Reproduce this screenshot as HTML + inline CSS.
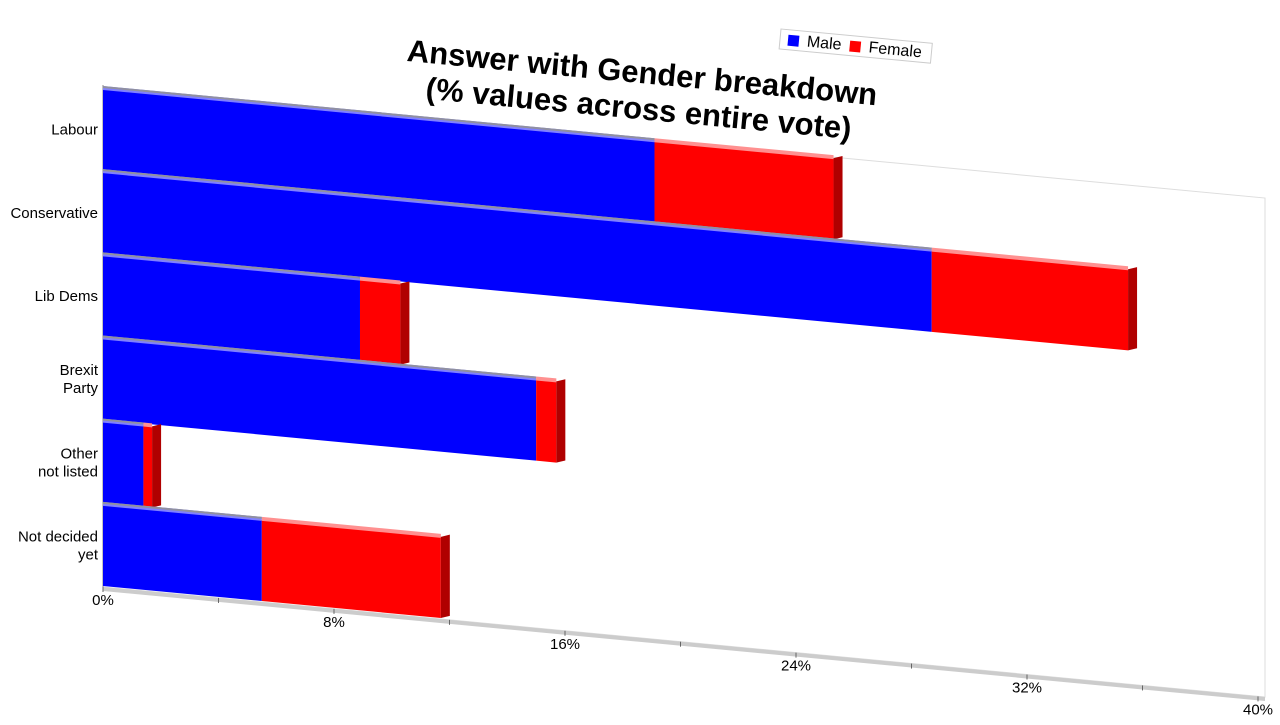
<!DOCTYPE html>
<html><head><meta charset="utf-8"><style>
body{margin:0;background:#fff;font-family:"Liberation Sans",sans-serif}
</style></head><body>
<svg width="1280" height="720" xmlns="http://www.w3.org/2000/svg" font-family="Liberation Sans, sans-serif">
<g transform="translate(640,95) rotate(5.4)">
<text x="0" y="-12" text-anchor="middle" font-size="31" font-weight="bold">Answer with Gender breakdown</text>
<text x="0" y="24" text-anchor="middle" font-size="31" font-weight="bold">(% values across entire vote)</text>
</g>
<g transform="translate(781,29) rotate(5.4)">
<rect x="0" y="0" width="152" height="20" fill="#fff" stroke="#ccc"/>
<rect x="8" y="5" width="11" height="11" fill="#0000ff"/>
<text x="27" y="15" font-size="16">Male</text>
<rect x="70" y="5" width="11" height="11" fill="#ff0000"/>
<text x="89" y="15" font-size="16">Female</text>
</g>
<g id="plot" transform="matrix(1,0.0947,0,1,0,-9.754)"></g>
<g id="labels"></g>
</svg>
<script>
const categories=["Labour","Conservative","Lib Dems","Brexit|Party","Other|not listed","Not decided|yet"];
const maleValues=[19.1,28.7,8.9,15.0,1.4,5.5];
const femaleValues=[6.2,6.8,1.4,0.7,0.3,6.2];
const tickLabels=["0%","8%","16%","24%","32%","40%"];
const tickValues=[0,8,16,24,32,40];
const NS="http://www.w3.org/2000/svg";
const X0=103,X1=1258,MAX=40,TOP=88,BOT=587,SH=0.0947;
const xs=v=>X0+(X1-X0)*v/MAX;
const rowH=(BOT-TOP)/categories.length;
const plot=document.getElementById('plot'),labels=document.getElementById('labels');
function mk(p,tag,at){const e=document.createElementNS(NS,tag);for(const k in at)e.setAttribute(k,at[k]);p.appendChild(e);return e;}
// plane
const plane=mk(plot,'path',{d:`M${X0},${TOP} L1265,${TOP} L1265,${BOT} L${X0},${BOT}`,fill:'none',stroke:'#ddd'});


const ax=mk(plot,'rect',{x:X0,y:BOT,width:1265-X0,height:4,fill:'#ccc'});


const yax=mk(plot,'line',{x1:X0,y1:TOP-3,x2:X0,y2:BOT,stroke:'#888'});


for(let v=0;v<=MAX;v+=4){const t=mk(plot,'line',{x1:xs(v),y1:BOT,x2:xs(v),y2:BOT+5,stroke:'#666'});

}
categories.forEach((c,i)=>{
 const y=TOP+i*rowH+1,h=rowH-2;
 const m=maleValues[i],f=femaleValues[i];
 const segs=[[0,m,'#0000ff','#8080ff','male'],[m,m+f,'#ff0000','#ff9090','female']];
 segs.forEach(s=>{
  const r=mk(plot,'rect',{x:xs(s[0]),y:y,width:xs(s[1])-xs(s[0]),height:h,fill:s[2]});
  
  
  const t=mk(plot,'rect',{x:xs(s[0]),y:y-3,width:xs(s[1])-xs(s[0]),height:4,fill:s[3]});
  
  
 });
 const e=xs(m+f);
 const side=mk(plot,'path',{d:`M${e},${y} L${e+9},${y-3} L${e+9},${y+h-3} L${e},${y+h} Z`,fill:'#b00000'});
 
 
 const sep=mk(plot,'line',{x1:X0,y1:y-2,x2:xs(m),y2:y-2,stroke:'#9090a0','stroke-width':2});
 
 
 const parts=c.split('|');const cy=TOP+(i+0.5)*rowH;
 parts.forEach((p,j)=>{const tx=mk(labels,'text',{x:98,y:cy+5+(j-(parts.length-1)/2)*18,'text-anchor':'end','font-size':15});
 tx.textContent=p;
 
 });
});
tickValues.forEach((v,i)=>{const x=xs(v);const tx=mk(labels,'text',{x:x-(i==0?0:0),y:BOT+SH*(x-X0)+18,'text-anchor':'middle','font-size':15});
tx.textContent=tickLabels[i];

});
</script>
</body></html>
